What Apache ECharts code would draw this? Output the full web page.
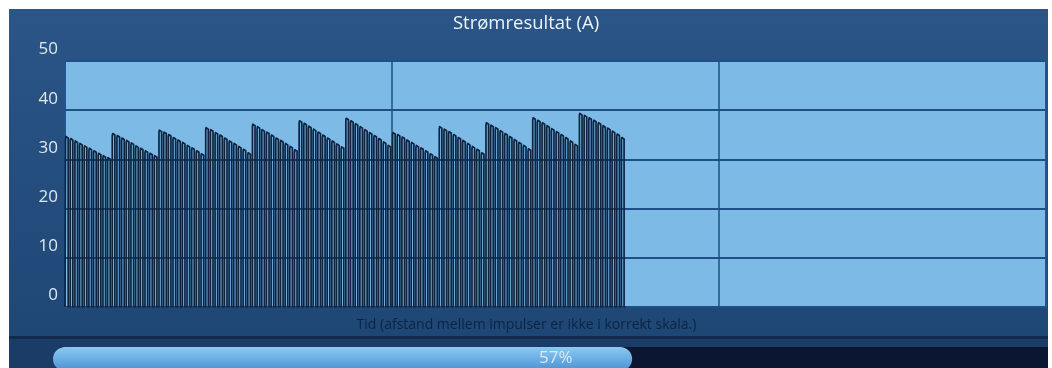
<!DOCTYPE html>
<html>
<head>
<meta charset="utf-8">
<script src="https://cdn.jsdelivr.net/npm/echarts@6/dist/echarts.min.js"></script>
<style>
  html, body { margin: 0; padding: 0; background: #ffffff; }
  #chart { width: 1052px; height: 368px; }
</style>
</head>
<body>
<div id="chart"></div>
<script>
// Current pulse peaks (A), 12 bursts of 10 pulses each
const pulseGroups = [
  [34.5, 34.1, 33.6, 33.1, 32.6, 32.1, 31.6, 31.1, 30.6, 30.2],
  [35.1, 34.7, 34.2, 33.7, 33.2, 32.6, 32.1, 31.6, 31.1, 30.6],
  [35.8, 35.4, 34.9, 34.3, 33.8, 33.3, 32.7, 32.2, 31.6, 31.0],
  [36.3, 35.9, 35.3, 34.8, 34.2, 33.6, 33.1, 32.5, 31.9, 31.2],
  [37.0, 36.5, 35.9, 35.4, 34.8, 34.2, 33.7, 33.1, 32.5, 31.8],
  [37.7, 37.2, 36.6, 36.0, 35.4, 34.8, 34.2, 33.6, 33.0, 32.4],
  [38.2, 37.7, 37.1, 36.5, 35.9, 35.3, 34.7, 34.1, 33.4, 32.7],
  [35.3, 34.9, 34.4, 33.8, 33.3, 32.7, 32.2, 31.6, 31.0, 30.4],
  [36.5, 36.0, 35.5, 34.9, 34.3, 33.7, 33.1, 32.5, 31.9, 31.2],
  [37.3, 36.8, 36.3, 35.7, 35.1, 34.5, 33.9, 33.3, 32.7, 32.0],
  [38.3, 37.8, 37.3, 36.7, 36.1, 35.5, 34.9, 34.3, 33.6, 32.9],
  [39.2, 38.8, 38.3, 37.8, 37.3, 36.7, 36.2, 35.6, 35.0, 34.3]
];
const timeSlots = 210;          // total pulse slots on the time axis
const slotGridStep = 70;        // vertical grid every 70 slots
const yTicks = [0, 10, 20, 30, 40, 50];
const progressValue = [57];     // treatment progress (%)

const chartTitle = 'Strømresultat (A)';
const xAxisName = 'Tid (afstand mellem impulser er ikke i korrekt skala.)';

// Build the pulse train as a square-wave polyline in data space,
// each pulse with a small rounded hump on its leading edge
const pulses = pulseGroups.flat();
const wave = [[0, 0]];
pulses.forEach((v, i) => {
  const x0 = i + 0.12, x1 = i + 0.68;
  wave.push(
    [x0, 0], [x0, v - 0.3], [x0 + 0.08, v + 0.15], [x0 + 0.2, v + 0.35],
    [x0 + 0.32, v + 0.1], [x1, v - 0.15], [x1, 0]
  );
});
wave.push([pulses.length, 0]);

const chart = echarts.init(document.getElementById('chart'), null, { renderer: 'canvas' });

chart.setOption({
  animation: false,
  backgroundColor: '#ffffff',
  textStyle: { fontFamily: 'Open Sans' },
  graphic: [
    {
      type: 'rect', z: -10, silent: true,
      shape: { x: 9, y: 9, width: 1039, height: 328 },
      style: {
        fill: new echarts.graphic.LinearGradient(0, 0, 0, 1, [
          { offset: 0, color: '#2a5586' },
          { offset: 1, color: '#1f4776' }
        ])
      }
    },
    {
      type: 'rect', z: -10, silent: true,
      shape: { x: 9, y: 337, width: 1039, height: 31 },
      style: { fill: '#1b3c67' }
    },
    {
      type: 'rect', z: -9, silent: true,
      shape: { x: 9, y: 336, width: 1039, height: 3 },
      style: { fill: '#112a4c' }
    },
    {
      // progress track
      type: 'rect', z: -8, silent: true,
      shape: { x: 60, y: 347, width: 988, height: 24 },
      style: { fill: '#0b1632' }
    }
  ],
  title: {
    text: chartTitle,
    left: 'center',
    top: 9,
    textStyle: { color: '#eef3f8', fontSize: 18.5, fontWeight: 'normal', fontFamily: 'Open Sans' }
  },
  grid: [
    {
      left: 65, right: 6, top: 61, bottom: 61,
      show: true,
      backgroundColor: '#7dbbe6',
      borderColor: '#2b5c92',
      borderWidth: 1.5
    },
    {
      left: 53, width: 1016, top: 347, height: 24,
      outerBoundsMode: 'none'
    }
  ],
  xAxis: [
    {
      gridIndex: 0,
      type: 'value',
      min: 0, max: timeSlots, interval: slotGridStep,
      name: xAxisName,
      nameLocation: 'middle',
      nameGap: 11,
      nameTextStyle: {
        color: '#0d2343', fontSize: 14, fontFamily: 'Open Sans',
        padding: [0, 58, 0, 0]
      },
      axisLine: { show: false },
      axisTick: { show: false },
      axisLabel: { show: false },
      splitLine: { show: true, lineStyle: { color: '#1e4f86', width: 1.5 } }
    },
    {
      gridIndex: 1,
      type: 'value', min: 0, max: 100,
      show: false
    }
  ],
  yAxis: [
    {
      gridIndex: 0,
      type: 'value',
      min: yTicks[0], max: yTicks[yTicks.length - 1], interval: 10,
      axisLine: { show: false },
      axisTick: { show: false },
      axisLabel: {
        color: '#dfe7ef', fontSize: 17, margin: 7,
        verticalAlign: 'bottom', padding: [0, 0, 3, 0],
        fontFamily: 'Open Sans'
      },
      splitLine: { show: true, lineStyle: { color: '#1e4f86', width: 2 } }
    },
    {
      gridIndex: 1,
      type: 'category', data: [''],
      show: false
    }
  ],
  series: [
    {
      type: 'line',
      xAxisIndex: 0, yAxisIndex: 0,
      data: wave,
      showSymbol: false,
      lineStyle: { color: '#0d2340', width: 1.7, join: 'round' },
      z: 5
    },
    {
      type: 'bar',
      xAxisIndex: 1, yAxisIndex: 1,
      data: progressValue,
      barWidth: 24,
      itemStyle: {
        borderRadius: 12,
        color: new echarts.graphic.LinearGradient(0, 0, 0, 1, [
          { offset: 0, color: '#8ccaf2' },
          { offset: 1, color: '#4a91d4' }
        ])
      },
      label: {
        show: true,
        position: 'insideLeft',
        formatter: (p) => p.value + '%',
        color: '#dbe8f4',
        fontSize: 17,
        fontFamily: 'Open Sans',
        distance: 0,
        offset: [486, -1]
      },
      z: 3
    }
  ]
});
</script>
</body>
</html>
